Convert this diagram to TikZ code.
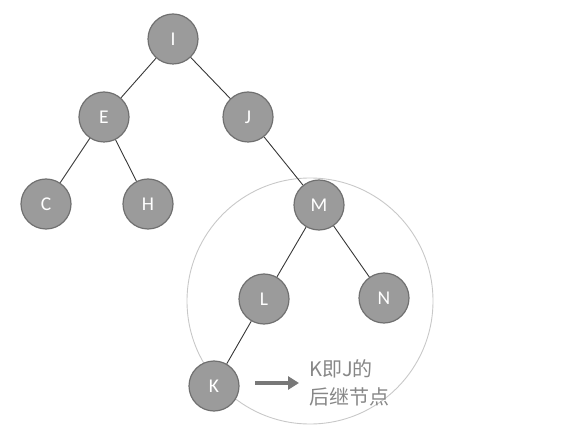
\documentclass[tikz,border=0pt]{standalone}
\usepackage{fontspec}
\setmainfont{Carlito}
\newfontfamily\cjk{Noto Sans CJK SC}
\usetikzlibrary{arrows.meta}
\definecolor{nodefill}{RGB}{155,155,155}
\definecolor{nodeborder}{RGB}{112,112,112}
\definecolor{edgecol}{RGB}{55,55,55}
\definecolor{ringcol}{RGB}{200,200,200}
\definecolor{notecol}{RGB}{135,135,135}
\definecolor{arrowcol}{RGB}{120,120,120}
\tikzset{
  tnode/.style={circle, minimum size=50pt, inner sep=0pt, fill=nodefill, draw=nodeborder, line width=1.2pt, text=white, font=\fontsize{19.5}{19.5}\selectfont},
  tedge/.style={draw=edgecol, line width=0.9pt},
  ring/.style={draw=ringcol, line width=0.9pt},
  note/.style={text=notecol, font=\cjk\fontsize{20}{28}\selectfont, align=left, anchor=west, inner sep=0pt},
  pointer/.style={draw=arrowcol, line width=3.5pt, -{Triangle[length=11pt,width=13pt]}}
}
\begin{document}
\begin{tikzpicture}[x=1pt,y=-1pt]
\useasboundingbox (0,0) rectangle (572,427);
\draw[ring] (310,301) circle (123);
\node[tnode] (I) at (173,39) {I};
\node[tnode] (E) at (104,117) {E};
\node[tnode] (J) at (248,117) {J};
\node[tnode] (C) at (46,204) {C};
\node[tnode] (H) at (148,204) {H};
\node[tnode] (M) at (319,205) {M};
\node[tnode] (L) at (264,299) {L};
\node[tnode] (N) at (384,298) {N};
\node[tnode] (K) at (214,386) {K};
\draw[tedge] (I) -- (E);
\draw[tedge] (I) -- (J);
\draw[tedge] (E) -- (C);
\draw[tedge] (E) -- (H);
\draw[tedge] (J) -- (M);
\draw[tedge] (M) -- (L);
\draw[tedge] (M) -- (N);
\draw[tedge] (L) -- (K);
\node[note] (T) at (309,383) {K即J的\\后继节点};
\coordinate (A1) at (255,383);
\coordinate (A2) at (299,383);
\draw[pointer] (A1) -- (A2);
\end{tikzpicture}
\end{document}
